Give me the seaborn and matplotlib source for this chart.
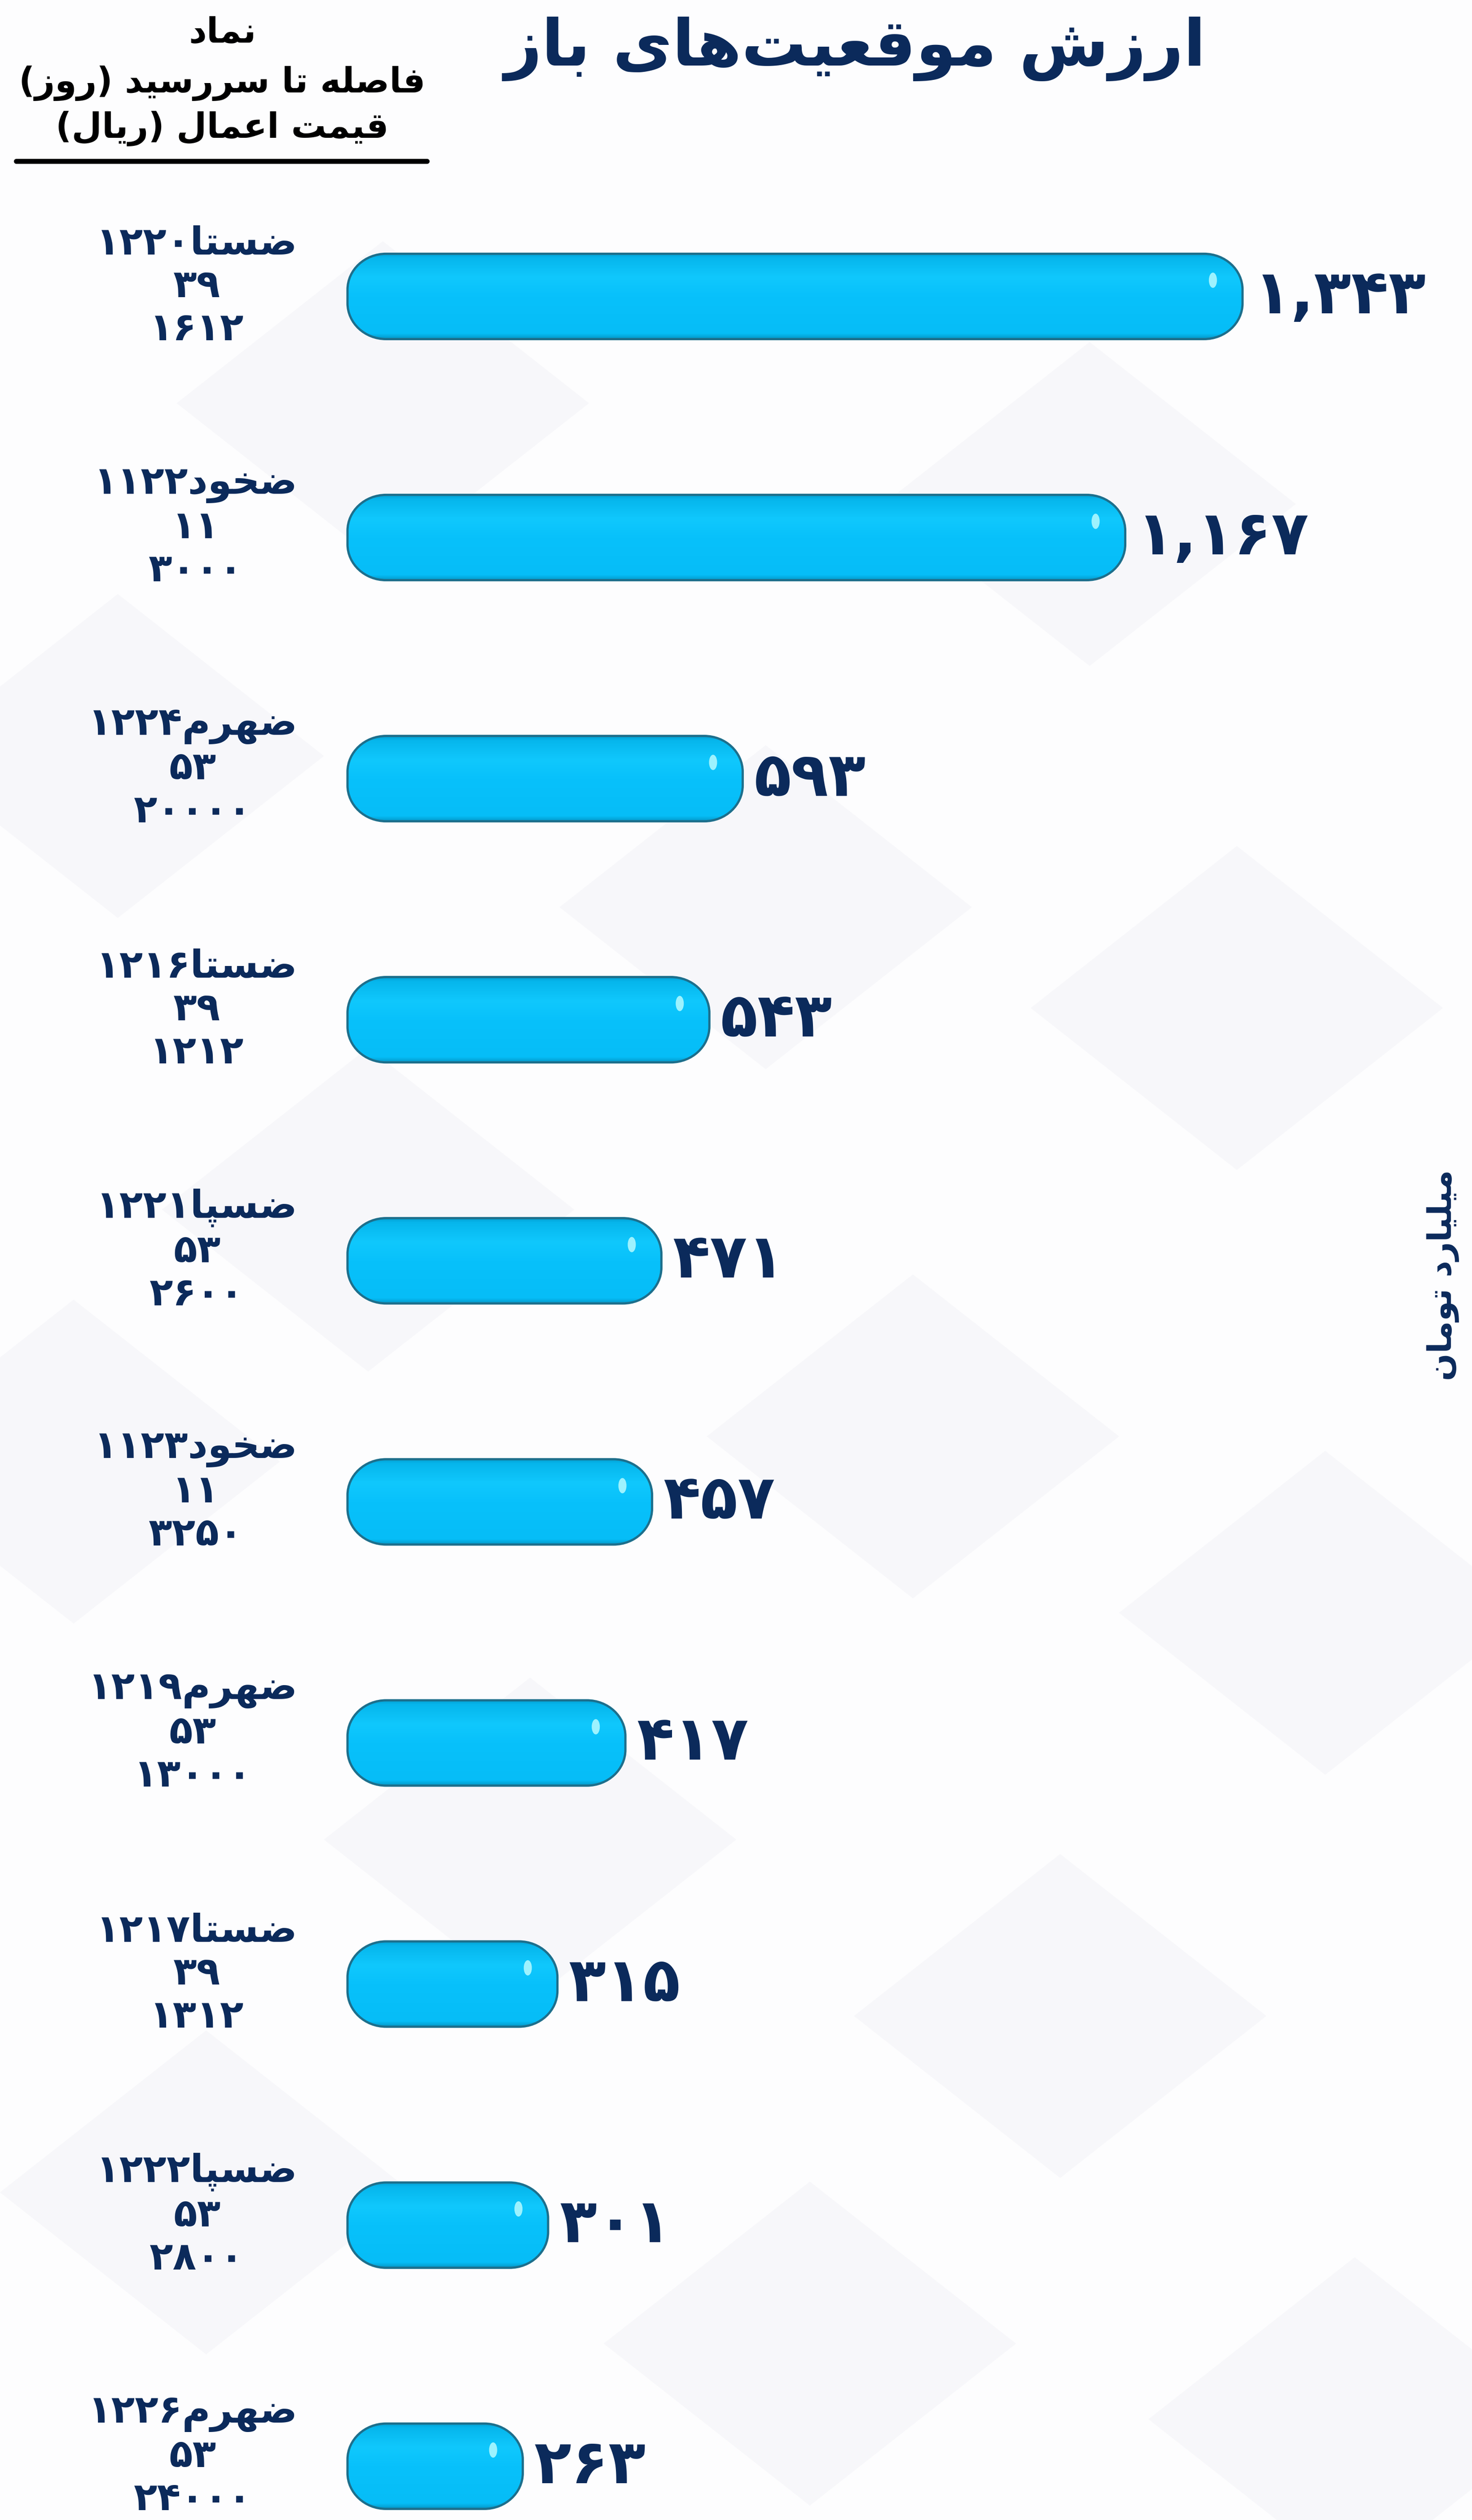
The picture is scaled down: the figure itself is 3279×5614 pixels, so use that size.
import numpy as np
import pandas as pd
import matplotlib
matplotlib.use("Agg")
import matplotlib.pyplot as plt
import seaborn as sns
from matplotlib.patches import PathPatch, Ellipse, Polygon
from matplotlib.path import Path
from matplotlib.colors import LinearSegmentedColormap
from matplotlib.lines import Line2D

# ---------------- data ----------------
symbols = ['ضستا1220', 'ضخود1122', 'ضهرم1224', 'ضستا1216', 'ضسپا1221',
           'ضخود1123', 'ضهرم1219', 'ضستا1217', 'ضسپا1222', 'ضهرم1226']
days = [39, 11, 53, 39, 53, 11, 53, 39, 53, 53]
strikes = [1612, 3000, 20000, 1212, 2600, 3250, 13000, 1312, 2800, 24000]
values = [1343, 1167, 593, 543, 471, 457, 417, 315, 301, 263]
title_text = 'ارزش موقعیت\u200cهای باز'
header_lines = ['نماد', 'فاصله تا سررسید (روز)', 'قیمت اعمال (ریال)']
unit_text = 'میلیارد تومان'

# ---------------- Persian shaping helpers ----------------
FORMS = {
    '\u0627': ('\uFE8D', '\uFE8E', None, None),
    '\u0628': ('\uFE8F', '\uFE90', '\uFE91', '\uFE92'),
    '\u067E': ('\uFB56', '\uFB57', '\uFB58', '\uFB59'),
    '\u062A': ('\uFE95', '\uFE96', '\uFE97', '\uFE98'),
    '\u062E': ('\uFEA5', '\uFEA6', '\uFEA7', '\uFEA8'),
    '\u062F': ('\uFEA9', '\uFEAA', None, None),
    '\u0631': ('\uFEAD', '\uFEAE', None, None),
    '\u0632': ('\uFEAF', '\uFEB0', None, None),
    '\u0633': ('\uFEB1', '\uFEB2', '\uFEB3', '\uFEB4'),
    '\u0634': ('\uFEB5', '\uFEB6', '\uFEB7', '\uFEB8'),
    '\u0635': ('\uFEB9', '\uFEBA', '\uFEBB', '\uFEBC'),
    '\u0636': ('\uFEBD', '\uFEBE', '\uFEBF', '\uFEC0'),
    '\u0639': ('\uFEC9', '\uFECA', '\uFECB', '\uFECC'),
    '\u0641': ('\uFED1', '\uFED2', '\uFED3', '\uFED4'),
    '\u0642': ('\uFED5', '\uFED6', '\uFED7', '\uFED8'),
    '\u0644': ('\uFEDD', '\uFEDE', '\uFEDF', '\uFEE0'),
    '\u0645': ('\uFEE1', '\uFEE2', '\uFEE3', '\uFEE4'),
    '\u0646': ('\uFEE5', '\uFEE6', '\uFEE7', '\uFEE8'),
    '\u0647': ('\uFEE9', '\uFEEA', '\uFEEB', '\uFEEC'),
    '\u0648': ('\uFEED', '\uFEEE', None, None),
    '\u06CC': ('\uFBFC', '\uFBFD', '\uFBFE', '\uFBFF'),
}
FA = str.maketrans('0123456789', '۰۱۲۳۴۵۶۷۸۹')
DIGITS = set('0123456789۰۱۲۳۴۵۶۷۸۹')
MIRROR = {'(': ')', ')': '('}


def shape(word):
    out = []
    n = len(word)
    for i, ch in enumerate(word):
        if ch not in FORMS:
            if ch != '\u200c':
                out.append(ch)
            continue
        prev = word[i - 1] if i > 0 else ''
        nxt = word[i + 1] if i < n - 1 else ''
        jp = prev in FORMS and FORMS[prev][2] is not None
        jn = FORMS[ch][2] is not None and nxt in FORMS
        iso, fin, ini, med = FORMS[ch]
        out.append(med if (jp and jn) else fin if jp else ini if jn else iso)
    return ''.join(out)


def visual(text):
    s = shape(str(text).translate(FA))
    runs, cur, curd = [], '', None
    for ch in s:
        d = ch in DIGITS
        if curd is None or d == curd:
            cur += ch
        else:
            runs.append((curd, cur))
            cur = ch
        curd = d
    runs.append((curd, cur))
    parts = []
    for d, r in reversed(runs):
        parts.append(r if d else ''.join(MIRROR.get(c, c) for c in reversed(r)))
    return ''.join(parts)


def fa_num(v):
    return f'{v:,}'.translate(FA)


def capsule_path(x0, y0, x1, y1, rx, ry):
    k = 0.5523
    M, L, C, Z = Path.MOVETO, Path.LINETO, Path.CURVE4, Path.CLOSEPOLY
    verts = [(x0 + rx, y0), (x1 - rx, y0),
             (x1 - rx + k * rx, y0), (x1, y0 + ry - k * ry), (x1, y0 + ry),
             (x1, y1 - ry),
             (x1, y1 - ry + k * ry), (x1 - rx + k * rx, y1), (x1 - rx, y1),
             (x0 + rx, y1),
             (x0 + rx - k * rx, y1), (x0, y1 - ry + k * ry), (x0, y1 - ry),
             (x0, y0 + ry),
             (x0, y0 + ry - k * ry), (x0 + rx - k * rx, y0), (x0 + rx, y0),
             (x0 + rx, y0)]
    codes = [M, L, C, C, C, L, C, C, C, L, C, C, C, L, C, C, C, Z]
    return Path(verts, codes)


# ---------------- figure ----------------
NAVY = '#0B2A5B'
sns.set_style('white')
plt.rcParams['font.family'] = ['DejaVu Sans']

W, H, DPI = 3280, 5614, 200
fig = plt.figure(figsize=(W / DPI, H / DPI), dpi=DPI)
fig.patch.set_facecolor('#fdfdfe')

# faint decorative diamonds in the background
diamonds = [(0.26, 0.84), (0.74, 0.80), (0.52, 0.64), (0.84, 0.60), (0.25, 0.52),
            (0.62, 0.43), (0.90, 0.36), (0.36, 0.27), (0.72, 0.20), (0.14, 0.13),
            (0.55, 0.07), (0.92, 0.04), (0.05, 0.42), (0.08, 0.70)]
dx, dy = 0.14, 0.11 * W / H
for cx, cy in diamonds:
    fig.add_artist(Polygon([(cx - dx, cy), (cx, cy + dy), (cx + dx, cy), (cx, cy - dy)],
                           closed=True, transform=fig.transFigure,
                           facecolor='#f7f7fa', edgecolor='none', zorder=-5))

ax = fig.add_axes([0.236, 0.0, 0.702, 0.9302])
ax.set_facecolor('none')

labels = [f'{visual(s)}\n{visual(d)}\n{visual(k)}' for s, d, k in zip(symbols, days, strikes)]
df = pd.DataFrame({'label': labels, 'value': values})

sns.barplot(data=df, x='value', y='label', orient='h', color='#06bef8',
            saturation=1, width=0.354, ax=ax)

ax.set_xlim(0, 1551)
ax.set_ylim(9.223, -0.5)
ax.set_autoscale_on(False)
for sp in ax.spines.values():
    sp.set_visible(False)
ax.set_xticks([])
ax.set_xlabel('')
ax.set_ylabel('')
ax.set_yticks(np.arange(len(labels)) - 0.07, labels=labels)
ax.tick_params(axis='y', length=0, pad=40)
for t in ax.get_yticklabels():
    t.set_fontsize(31)
    t.set_fontweight('bold')
    t.set_color(NAVY)
    t.set_multialignment('center')
    t.set_linespacing(1.2)

# pixel scale of data units
p0 = ax.transData.transform((0, 0))
p1 = ax.transData.transform((1, 1))
px_x = abs(p1[0] - p0[0])
px_y = abs(p1[1] - p0[1])

cmap = LinearSegmentedColormap.from_list('bar', [
    (0.0, '#049fd2'), (0.05, '#06b6ec'), (0.28, '#10c8fd'),
    (0.5, '#08c1fb'), (0.94, '#06bdf7'), (1.0, '#0498c8')])
grad = np.linspace(0, 1, 200).reshape(-1, 1)

for rect in list(ax.patches):
    x, y, w, h = rect.get_x(), rect.get_y(), rect.get_width(), rect.get_height()
    rect.set_visible(False)
    rx = 86 / px_x
    ry = 80 / px_y
    pp = PathPatch(capsule_path(x, y, x + w, y + h, rx, ry), facecolor='none',
                   edgecolor='#1d6f8c', linewidth=1.8, zorder=3, clip_on=False)
    ax.add_patch(pp)
    im = ax.imshow(grad, cmap=cmap, extent=(x, x + w, y + h, y), origin='upper',
                   aspect='auto', zorder=2, interpolation='bilinear')
    im.set_clip_path(pp)
    ax.add_patch(Ellipse((x + w - 66 / px_x, y + 0.31 * h), 18 / px_x, 34 / px_y,
                         facecolor='#a6f5ff', edgecolor='none', alpha=0.95, zorder=4))
    ax.annotate(fa_num(int(round(w))), xy=(x + w, y + h / 2), xytext=(9, 0),
                textcoords='offset points', ha='left', va='center',
                fontsize=49, fontweight='bold', color=NAVY, zorder=5)

# title and headers
fig.text(0.581, 0.9805, visual(title_text), ha='center', va='center',
         fontsize=52, fontweight='bold', color=NAVY)
for yy, line in zip([0.987, 0.967, 0.949], header_lines):
    fig.text(0.151, yy, visual(line), ha='center', va='center',
             fontsize=28, fontweight='bold', color='black')
fig.add_artist(Line2D([0.011, 0.290], [0.936, 0.936], transform=fig.transFigure,
                      color='black', linewidth=4))
fig.text(0.980, 0.494, visual(unit_text), rotation=90, ha='center', va='center',
         fontsize=26, fontweight='bold', color=NAVY)

fig.savefig('out.png', dpi=DPI, facecolor=fig.get_facecolor())
